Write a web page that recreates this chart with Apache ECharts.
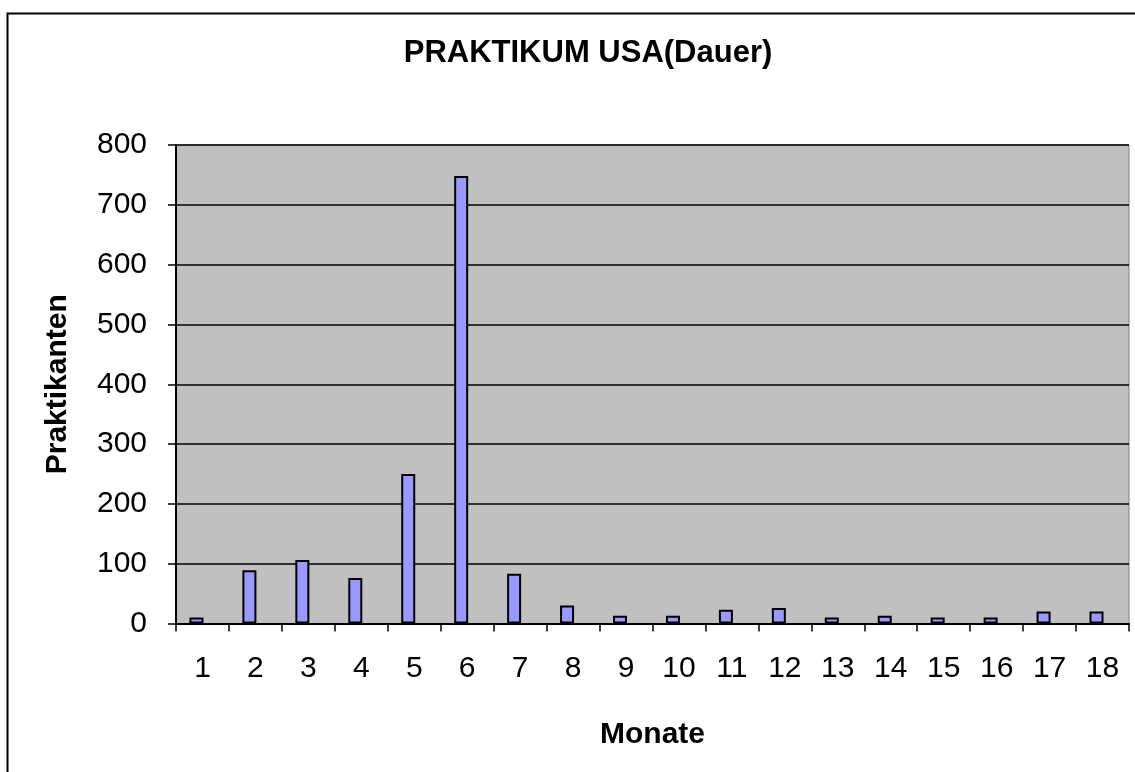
<!DOCTYPE html>
<html>
<head>
<meta charset="utf-8">
<script src="https://cdn.jsdelivr.net/npm/echarts@6/dist/echarts.min.js"></script>
<style>
html,body{margin:0;padding:0;background:#fff;}
#chart{width:1135px;height:772px;}
</style>
</head>
<body>
<div id="chart"></div>
<script>
const categories = ['1','2','3','4','5','6','7','8','9','10','11','12','13','14','15','16','17','18'];
const praktikanten = [10, 89, 106, 76, 250, 748, 83, 30, 13, 13, 23, 26, 10, 13, 10, 10, 20, 20];
const yTicks = [0, 100, 200, 300, 400, 500, 600, 700, 800];
const titleText = 'PRAKTIKUM USA(Dauer)';
const xName = 'Monate';
const yName = 'Praktikanten';

const FONT = '"Liberation Sans", Arial, sans-serif';
const chart = echarts.init(document.getElementById('chart'), null, {renderer: 'canvas'});
chart.setOption({
  animation: false,
  backgroundColor: '#ffffff',
  title: {
    text: titleText,
    left: 583,
    top: 33,
    textAlign: 'center',
    textStyle: {fontFamily: FONT, fontSize: 31, fontWeight: 'bold', color: '#000'}
  },
  graphic: [{
    type: 'rect',
    left: 5, top: 11,
    shape: {width: 1200, height: 800},
    style: {fill: 'none', stroke: '#000', lineWidth: 2},
    silent: true
  }],
  grid: {
    left: 176, right: 6, top: 145, bottom: 148.5,
    show: true,
    backgroundColor: '#C0C0C0',
    borderColor: '#808080',
    borderWidth: 1
  },
  xAxis: {
    type: 'category',
    data: categories,
    name: xName,
    nameLocation: 'middle',
    nameGap: 96,
    nameTextStyle: {fontFamily: FONT, fontSize: 30, fontWeight: 'bold', color: '#000'},
    axisLine: {show: true, lineStyle: {color: '#000', width: 2}},
    axisTick: {show: true, inside: false, length: 8, alignWithLabel: false, lineStyle: {color: '#000', width: 1.5}},
    axisLabel: {fontFamily: FONT, fontSize: 30, color: '#000', margin: 30, interval: 0},
    splitLine: {show: false}
  },
  yAxis: {
    type: 'value',
    min: yTicks[0],
    max: yTicks[yTicks.length - 1],
    interval: 100,
    name: yName,
    nameLocation: 'middle',
    nameGap: 103,
    nameRotate: 90,
    nameTextStyle: {fontFamily: FONT, fontSize: 30, fontWeight: 'bold', color: '#000'},
    axisLine: {show: true, lineStyle: {color: '#000', width: 2}},
    axisTick: {show: true, inside: false, length: 8, lineStyle: {color: '#000', width: 1.5}},
    axisLabel: {fontFamily: FONT, fontSize: 30, color: '#000', margin: 29},
    splitLine: {show: true, lineStyle: {color: '#000', width: 1.5}}
  },
  series: [{
    type: 'bar',
    name: yName,
    data: praktikanten,
    barWidth: 14,
    barGap: '-14%',
    itemStyle: {color: '#9999FF', borderColor: '#000', borderWidth: 2}
  }, {
    type: 'bar',
    name: 'leer',
    data: categories.map(() => null),
    barWidth: 14
  }]
});
</script>
</body>
</html>
